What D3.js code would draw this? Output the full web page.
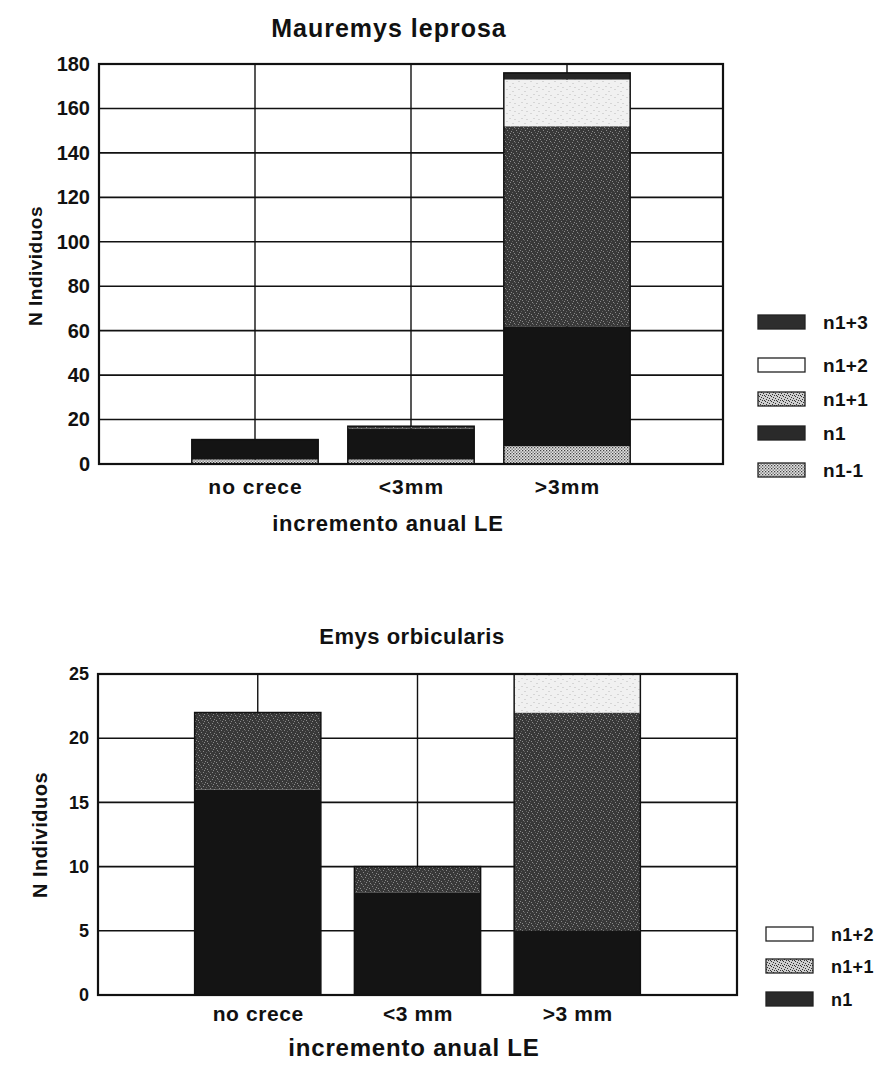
<!DOCTYPE html>
<html>
<head>
<meta charset="utf-8">
<script src="https://cdn.jsdelivr.net/npm/d3@7"></script>
<style>
  html, body { margin: 0; padding: 0; background: #fff; }
  svg text { font-family: "Liberation Sans", Arial, Helvetica, sans-serif; font-weight: bold; fill: #111; }
</style>
</head>
<body>
<svg id="chart" width="883" height="1065"></svg>
<script>
// ---------- Data ----------
const topTitle = "Mauremys leprosa";
const topCategories = ["no crece", "<3mm", ">3mm"];
const topSeries = ["n1-1", "n1", "n1+1", "n1+2", "n1+3"];
const topN1m1 = [2, 2, 8];
const topN1   = [9, 14, 54];
const topN1p1 = [0, 1, 90];
const topN1p2 = [0, 0, 21];
const topN1p3 = [0, 0, 3];
const topTicks = [0, 20, 40, 60, 80, 100, 120, 140, 160, 180];

const botTitle = "Emys orbicularis";
const botCategories = ["no crece", "<3 mm", ">3 mm"];
const botSeries = ["n1", "n1+1", "n1+2"];
const botN1   = [16, 8, 5];
const botN1p1 = [6, 2, 17];
const botN1p2 = [0, 0, 3];
const botTicks = [0, 5, 10, 15, 20, 25];

const xTitle = "incremento anual LE";
const yTitle = "N Individuos";

// ---------- Setup ----------
const svg = d3.select("#chart");
const defs = svg.append("defs");

// dotted pattern for n1-1
const pDot = defs.append("pattern").attr("id", "pDot").attr("patternUnits", "userSpaceOnUse")
  .attr("width", 3).attr("height", 3);
pDot.append("rect").attr("width", 3).attr("height", 3).attr("fill", "#e4e4e4");
pDot.append("rect").attr("x", 0).attr("y", 0).attr("width", 1.3).attr("height", 1.3).attr("fill", "#444");
pDot.append("rect").attr("x", 1.5).attr("y", 1.5).attr("width", 1.3).attr("height", 1.3).attr("fill", "#666");

// stipple pattern for n1+1 (dark grey with light specks)
const pSt = defs.append("pattern").attr("id", "pSt").attr("patternUnits", "userSpaceOnUse")
  .attr("width", 9).attr("height", 7);
pSt.append("rect").attr("width", 9).attr("height", 7).attr("fill", "#383838");
[[1,1],[5,2],[3,4],[7,5],[0,6],[6,0]].forEach(([x,y]) =>
  pSt.append("rect").attr("x", x).attr("y", y).attr("width", 1).attr("height", 1).attr("fill", "#8a8a8a"));
[[2,2],[8,3],[4,6]].forEach(([x,y]) =>
  pSt.append("rect").attr("x", x).attr("y", y).attr("width", 1).attr("height", 1).attr("fill", "#606060"));

// legend stipple for n1+1 (lighter)
const pStL = defs.append("pattern").attr("id", "pStL").attr("patternUnits", "userSpaceOnUse")
  .attr("width", 6).attr("height", 5);
pStL.append("rect").attr("width", 6).attr("height", 5).attr("fill", "#cfcfcf");
[[0,0],[3,1],[1,3],[4,4],[5,2],[2,0]].forEach(([x,y]) =>
  pStL.append("rect").attr("x", x).attr("y", y).attr("width", 1).attr("height", 1).attr("fill", "#333"));

// light pattern for n1+2
const pLt = defs.append("pattern").attr("id", "pLt").attr("patternUnits", "userSpaceOnUse")
  .attr("width", 12).attr("height", 8);
pLt.append("rect").attr("width", 12).attr("height", 8).attr("fill", "#f1f1f1");
[[2,1],[8,3],[5,6],[10,7]].forEach(([x,y]) =>
  pLt.append("rect").attr("x", x).attr("y", y).attr("width", 2).attr("height", 1).attr("fill", "#d6d6d6"));

const fills = {
  "n1-1": "url(#pDot)",
  "n1": "#141414",
  "n1+1": "url(#pSt)",
  "n1+2": "url(#pLt)",
  "n1+3": "#262626"
};
const legendFills = {
  "n1-1": "url(#pDot)",
  "n1": "#2a2a2a",
  "n1+1": "url(#pStL)",
  "n1+2": "#ffffff",
  "n1+3": "#2e2e2e"
};

function styleText(sel, size, ls) {
  sel.style("font-size", size + "px")
    .style("font-family", "'Liberation Sans', Arial, sans-serif")
    .style("font-weight", "bold")
    .style("letter-spacing", (ls || 0) + "px")
    .attr("fill", "#111");
}

function drawChart(cfg) {
  const g = svg.append("g");
  const x = d3.scalePoint().domain(cfg.categories).range([cfg.x0, cfg.x1]).padding(1);
  const y = d3.scaleLinear().domain([0, cfg.ymax]).range([cfg.yb, cfg.yt]);

  // horizontal grid
  g.append("g").selectAll("line").data(cfg.ticks).join("line")
    .attr("x1", cfg.x0).attr("x2", cfg.x1)
    .attr("y1", d => y(d)).attr("y2", d => y(d))
    .attr("stroke", "#111").attr("stroke-width", 1.6);
  // vertical grid at category positions
  g.append("g").selectAll("line").data(cfg.categories).join("line")
    .attr("x1", d => x(d)).attr("x2", d => x(d))
    .attr("y1", cfg.yt).attr("y2", cfg.yb)
    .attr("stroke", "#111").attr("stroke-width", 1.4);

  // stacked bars
  const rows = cfg.categories.map((c, i) => {
    const r = { cat: c };
    cfg.series.forEach((s, k) => r[s] = cfg.values[k][i]);
    return r;
  });
  const stack = d3.stack().keys(cfg.series)(rows);
  const bw = x.step() * cfg.barFrac;
  g.append("g").selectAll("g").data(stack).join("g")
    .attr("fill", d => fills[d.key])
    .selectAll("rect").data(d => d.filter(p => p[1] > p[0])).join("rect")
    .attr("x", d => x(d.data.cat) - bw / 2)
    .attr("width", bw)
    .attr("y", d => y(d[1]))
    .attr("height", d => y(d[0]) - y(d[1]));
  // bar outlines
  g.append("g").selectAll("rect").data(rows).join("rect")
    .attr("x", d => x(d.cat) - bw / 2).attr("width", bw)
    .attr("y", d => y(d3.sum(cfg.series, s => d[s])))
    .attr("height", d => cfg.yb - y(d3.sum(cfg.series, s => d[s])))
    .attr("fill", "none").attr("stroke", "#111").attr("stroke-width", 1.5);

  // frame
  g.append("rect").attr("x", cfg.x0).attr("y", cfg.yt)
    .attr("width", cfg.x1 - cfg.x0).attr("height", cfg.yb - cfg.yt)
    .attr("fill", "none").attr("stroke", "#111").attr("stroke-width", 2.2);

  // y axis labels
  const ya = d3.axisLeft(y).tickValues(cfg.ticks).tickSize(0).tickPadding(cfg.yTickPad);
  const yg = g.append("g").attr("transform", `translate(${cfg.x0},0)`).call(ya);
  yg.select(".domain").remove();
  styleText(yg.selectAll("text"), cfg.yTickFont, 0);

  // x axis labels
  const xa = d3.axisBottom(x).tickSize(0).tickPadding(cfg.xTickPad);
  const xg = g.append("g").attr("transform", `translate(0,${cfg.yb})`).call(xa);
  xg.select(".domain").remove();
  styleText(xg.selectAll("text"), cfg.xTickFont, cfg.xTickLs);

  // title
  styleText(g.append("text").attr("x", cfg.titleX).attr("y", cfg.titleY)
    .attr("text-anchor", "middle").text(cfg.title), cfg.titleFont, cfg.titleLs);
  // x title
  styleText(g.append("text").attr("x", cfg.xTitleX).attr("y", cfg.xTitleY)
    .attr("text-anchor", "middle").text(xTitle), cfg.xTitleFont, cfg.xTitleLs);
  // y title
  styleText(g.append("text").attr("transform", `translate(${cfg.yTitleX},${cfg.yTitleY}) rotate(-90)`)
    .attr("text-anchor", "middle").text(yTitle), cfg.yTitleFont, 0.5);

  // legend (top item = last series)
  const leg = g.append("g");
  const items = cfg.series.slice().reverse();
  items.forEach((s, i) => {
    const cy = cfg.legendY[i];
    leg.append("rect").attr("x", cfg.legendX).attr("y", cy - 7)
      .attr("width", 47).attr("height", 14)
      .attr("fill", legendFills[s]).attr("stroke", "#222").attr("stroke-width", 1.3);
    styleText(leg.append("text").attr("x", cfg.legendX + 65).attr("y", cy + 7).text(s), cfg.legendFont, 0.3);
  });
}

drawChart({
  title: topTitle, categories: topCategories, series: topSeries,
  values: [topN1m1, topN1, topN1p1, topN1p2, topN1p3],
  ticks: topTicks, ymax: 180,
  x0: 99, x1: 723, yt: 64, yb: 464, barFrac: 0.81,
  yTickFont: 20, xTickFont: 21, xTickLs: 1, titleFont: 25, titleLs: 1,
  xTitleFont: 22, xTitleLs: 0.8, yTitleFont: 19, legendFont: 19,
  yTickPad: 9, xTickPad: 15,
  titleX: 389, titleY: 37,
  xTitleX: 388, xTitleY: 531,
  yTitleX: 42, yTitleY: 266,
  legendX: 758, legendY: [322, 365, 399, 433, 470]
});

drawChart({
  title: botTitle, categories: botCategories, series: botSeries,
  values: [botN1, botN1p1, botN1p2],
  ticks: botTicks, ymax: 25,
  x0: 98, x1: 737, yt: 674, yb: 995, barFrac: 0.79,
  yTickFont: 18, xTickFont: 21, xTickLs: 0.6, titleFont: 22, titleLs: 0.5,
  xTitleFont: 24, xTitleLs: 0.8, yTitleFont: 20, legendFont: 18,
  yTickPad: 9, xTickPad: 11,
  titleX: 412, titleY: 644,
  xTitleX: 414, xTitleY: 1056,
  yTitleX: 47, yTitleY: 835,
  legendX: 766, legendY: [934, 966, 999]
});
</script>
</body>
</html>
